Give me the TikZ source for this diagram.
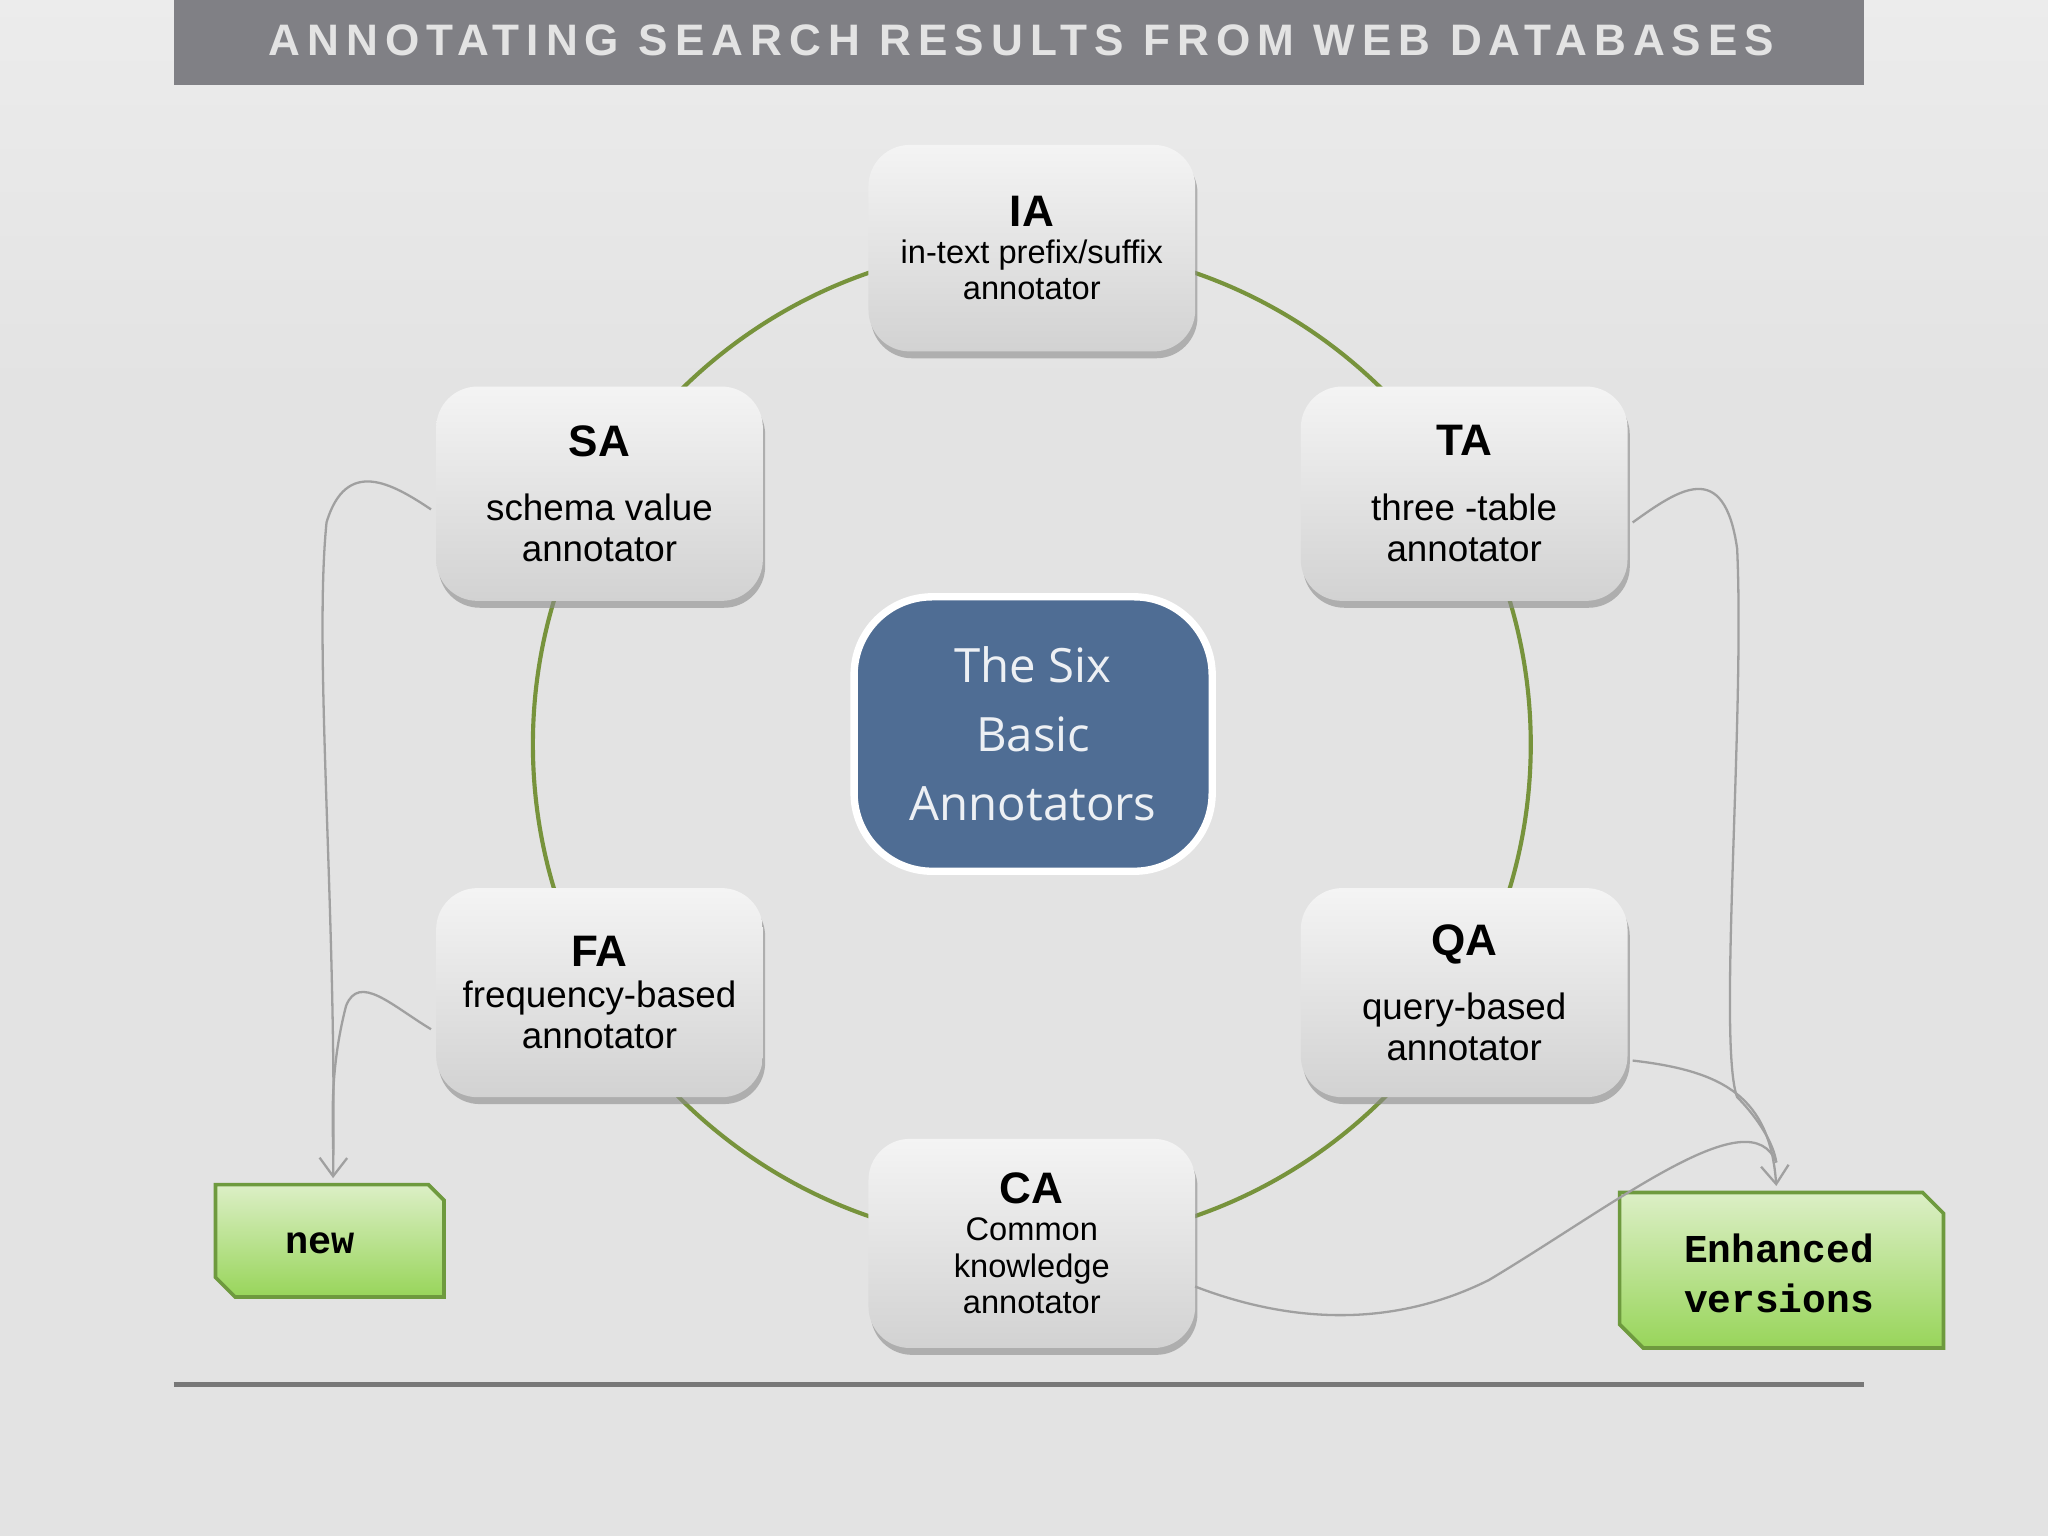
\documentclass[tikz,border=0pt]{standalone}
\usepackage{fontspec}
\setmainfont{Liberation Sans}
\newfontfamily\ctrfont{Open Sans}
\newfontfamily\monofnt{Liberation Mono}
\usetikzlibrary{shadows,arrows.meta}
\definecolor{boxtop}{HTML}{F4F4F4}
\definecolor{boxbot}{HTML}{D2D2D2}
\definecolor{ringc}{HTML}{77933C}
\definecolor{bluec}{HTML}{4F6D94}
\definecolor{linkc}{HTML}{A0A0A0}
\definecolor{gtop}{HTML}{DCEFC6}
\definecolor{gbot}{HTML}{98D55A}
\definecolor{gedge}{HTML}{6E9A3E}
\definecolor{barc}{HTML}{808085}
\definecolor{rulec}{HTML}{787878}
\tikzset{
 x=0.01cm,y=-0.01cm,
 annot/.style={rounded corners=9pt,top color=boxtop,bottom color=boxbot,draw=none,
   drop shadow={shadow xshift=0.5pt,shadow yshift=-1.5pt,fill=black!45,opacity=0.6},
   minimum width=2.5cm,minimum height=1.58cm,align=center,font=\fontsize{7.1}{8}\selectfont},
 link/.style={draw=linkc,line width=0.5pt},
 arr/.style={link,-{Straight Barb[length=4pt,width=6pt]}}
}
\begin{document}
\begin{tikzpicture}
\useasboundingbox (0,0) rectangle (1568,1176);
\fill[gray!22] (0,0) rectangle (1568,1176);
\shade[top color=white!85!gray,bottom color=gray!22] (0,0) rectangle (1568,300);
\fill[barc] (133,0) rectangle (1427,65);
\node[text=gray!22,font=\bfseries\fontsize{9.6}{10}\selectfont\addfontfeature{LetterSpace=16}] (title) at (782,31) {ANNOTATING SEARCH RESULTS FROM WEB DATABASES};
\draw[rulec,line width=1.3pt] (133,1060) -- (1427,1060);
\draw[ringc,line width=0.9pt] (790,570) circle (382);
\node[annot] (ia) at (790,190) {{\bfseries\fontsize{9.6}{11}\selectfont IA}\\in-text prefix/suffix\\annotator};
\node[annot,font=\fontsize{8}{9}\selectfont,minimum height=1.64cm] (sa) at (459,378) {{\bfseries\fontsize{9.6}{11}\selectfont SA}\\[5pt]schema value\\annotator};
\node[annot,font=\fontsize{8}{9}\selectfont,minimum height=1.64cm] (ta) at (1121,378) {{\bfseries\fontsize{9.6}{11}\selectfont TA}\\[5pt]three -table\\annotator};
\node[annot,font=\fontsize{8}{9}\selectfont,minimum height=1.6cm] (fa) at (459,760) {{\bfseries\fontsize{9.6}{11}\selectfont FA}\\frequency-based\\annotator};
\node[annot,font=\fontsize{8}{9}\selectfont,minimum height=1.6cm] (qa) at (1121,760) {{\bfseries\fontsize{9.6}{11}\selectfont QA}\\[5pt]query-based\\annotator};
\node[annot,minimum height=1.6cm] (ca) at (790,952) {{\bfseries\fontsize{9.6}{11}\selectfont CA}\\Common\\knowledge\\annotator};
\node[draw=white,line width=1.6pt,fill=bluec,rounded corners=17pt,minimum width=2.74cm,minimum height=2.1cm,text=white!90!bluec,align=center,font=\ctrfont\fontsize{10.3}{15}\selectfont] (ctr) at (791,562) {The Six\\Basic\\Annotators};
\path[draw=gedge,line width=0.8pt,top color=gtop,bottom color=gbot] (165,907) -- (328,907) -- (340,919) -- (340,993) -- (180,993) -- (165,978) -- cycle;
\node[font=\monofnt\bfseries\fontsize{8.4}{9}\selectfont] (new) at (245,952) {new};
\path[draw=gedge,line width=0.8pt,top color=gtop,bottom color=gbot] (1240,913) -- (1472,913) -- (1488,929) -- (1488,1032) -- (1258,1032) -- (1240,1014) -- cycle;
\node[font=\monofnt\bfseries\fontsize{8.6}{11}\selectfont,align=center] (enh) at (1362,975) {Enhanced\\versions};
\coordinate (na) at (255,902);
\coordinate (ea) at (1360,908);
\coordinate (qe) at (1250,812);
\coordinate (ce) at (915,985);
\coordinate (se) at (330,390);
\coordinate (fe) at (330,788);
\coordinate (te) at (1250,400);
\draw[arr] (se) .. controls (300,370) and (265,350) .. (250,400) .. controls (240,500) and (258,700) .. (na);
\draw[link] (fe) .. controls (300,770) and (275,745) .. (265,770) .. controls (252,820) and (255,860) .. (255,880);
\draw[link] (te) .. controls (1285,375) and (1320,350) .. (1330,420) .. controls (1336,550) and (1315,800) .. (1330,840) .. controls (1345,855) and (1358,875) .. (1360,890);
\draw[arr] (qe) .. controls (1320,820) and (1355,840) .. (ea);
\draw[link] (ce) .. controls (980,1010) and (1060,1020) .. (1140,980) .. controls (1240,920) and (1340,840) .. (1360,890);
\end{tikzpicture}
\end{document}
